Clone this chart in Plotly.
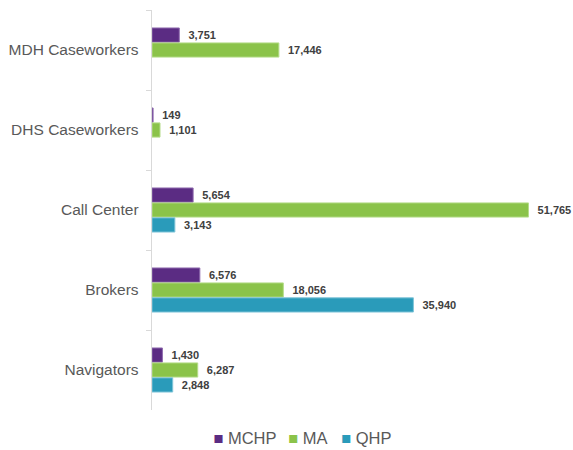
import plotly.graph_objects as go

categories = ["MDH Caseworkers", "DHS Caseworkers", "Call Center", "Brokers", "Navigators"]
mchp = [3751, 149, 5654, 6576, 1430]
ma = [17446, 1101, 51765, 18056, 6287]
qhp = [None, None, 3143, 35940, 2848]

series = [
    ("MCHP", mchp, "#5B2C83", "#8E6AAE", "legend", 0.0535),
    ("MA", ma, "#8BC34A", "#B5DC8A", "legend2", 0.2405),
    ("QHP", qhp, "#2A9BBA", "#7FC4D8", "legend3", 0.373),
]

NBSP = "\u00a0"
FONT = "Liberation Sans, Arial, sans-serif"

fig = go.Figure()
legend_layouts = {}
for name, vals, color, edge, legend_id, lx in series:
    fig.add_trace(go.Bar(
        name=name,
        y=categories,
        x=vals,
        orientation="h",
        marker=dict(color=color, line=dict(color=edge, width=1)),
        text=[NBSP * 2 + f"{v:,}" if v is not None else "" for v in vals],
        textposition="outside",
        textfont=dict(family=FONT, size=11, color="#404040", weight="bold"),
        cliponaxis=False,
        hoverinfo="skip",
        showlegend=False,
    ))
    # legend key: a coloured square glyph followed by the series name
    fig.add_trace(go.Scatter(
        name=f'<span style="color:{color}">\u25A0</span> {name}',
        x=[None],
        y=[None],
        mode="markers",
        marker=dict(size=1, color="rgba(0,0,0,0)", line=dict(width=0, color="rgba(0,0,0,0)")),
        hoverinfo="skip",
        showlegend=True,
        legend=legend_id,
    ))
    legend_layouts[legend_id] = dict(
        orientation="h",
        x=lx,
        xanchor="left",
        y=-0.07,
        yanchor="middle",
        font=dict(family=FONT, size=16.5, color="#595959"),
        itemwidth=30,
        bgcolor="rgba(0,0,0,0)",
    )

fig.update_layout(
    width=573,
    height=450,
    margin=dict(l=152, r=21, t=10, b=40, autoexpand=False),
    paper_bgcolor="white",
    plot_bgcolor="white",
    barmode="group",
    bargap=0.44,
    bargroupgap=0.05,
    font=dict(family=FONT, color="#595959"),
    xaxis=dict(
        range=[0, 55000],
        visible=False,
        showgrid=False,
        zeroline=False,
    ),
    yaxis=dict(
        autorange="reversed",
        showline=True,
        linecolor="#D9D9D9",
        linewidth=1,
        ticks="outside",
        tickson="boundaries",
        ticklen=5,
        tickcolor="#D9D9D9",
        tickfont=dict(family=FONT, size=15.5, color="#595959"),
        showgrid=False,
        ticksuffix=" ",
        ticklabelstandoff=5,
        automargin=False,
    ),
    showlegend=True,
    **legend_layouts,
)

fig.write_html("out.html")
